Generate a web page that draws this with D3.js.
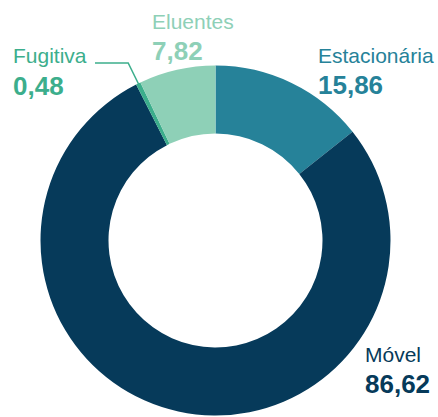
<!DOCTYPE html>
<html><head><meta charset="utf-8">
<script src="https://cdn.jsdelivr.net/npm/d3@7"></script>
<style>body{margin:0;background:#fff}svg{display:block}</style>
</head><body>
<svg id="c" width="438" height="417"></svg>
<script>
const categories = ["Estacionária", "Móvel", "Fugitiva", "Eluentes"];
const values = [15.86, 86.62, 0.48, 7.82];
const valueLabels = ["15,86", "86,62", "0,48", "7,82"];
const colors = ["#268299", "#063a5a", "#3cae8c", "#8ed0b7"];
const labelColors = ["#268299", "#063a5a", "#3cae8c", "#8ed0b7"];

const svg = d3.select("#c");
const cx = 215.5, cy = 240.5, R = 175, r = 107;
const g = svg.append("g").attr("transform", `translate(${cx},${cy})`);
const data = categories.map((c, i) => ({c, v: values[i], l: valueLabels[i], i}));
const pie = d3.pie().value(d => d.v).sort(null);
const arcs = pie(data);
const arc = d3.arc().innerRadius(r).outerRadius(R);
g.selectAll("path.s").data(arcs).enter().append("path")
  .attr("d", arc).attr("fill", d => colors[d.data.i]);

// Fugitiva leader line
const fa = arcs[2];
const mid = (fa.startAngle + fa.endAngle) / 2;
const sx = Math.sin(mid), sy = -Math.cos(mid);
const yLine = 63 - cy;
const rr = yLine / sy;
const pts = [[sx * (r + 2), sy * (r + 2)], [sx * rr, yLine], [95 - cx, yLine]];
g.append("path").attr("d", d3.line()(pts)).attr("fill", "none")
  .attr("stroke", colors[2]).attr("stroke-width", 1.5);

const labelPos = [
  {x: 318, y1: 63, y2: 94},
  {x: 365, y1: 362, y2: 393},
  {x: 13, y1: 63, y2: 95},
  {x: 152, y1: 29, y2: 60}
];
data.forEach((d, i) => {
  const p = labelPos[i];
  svg.append("text").attr("x", p.x).attr("y", p.y1).text(d.c)
    .attr("font-family", "Liberation Sans, Arial, sans-serif").attr("font-size", 21)
    .attr("fill", labelColors[i]);
  svg.append("text").attr("x", p.x).attr("y", p.y2).text(d.l)
    .attr("font-family", "Liberation Sans, Arial, sans-serif").attr("font-size", 26)
    .attr("font-weight", "bold").attr("fill", labelColors[i]);
});
</script>
</body></html>
